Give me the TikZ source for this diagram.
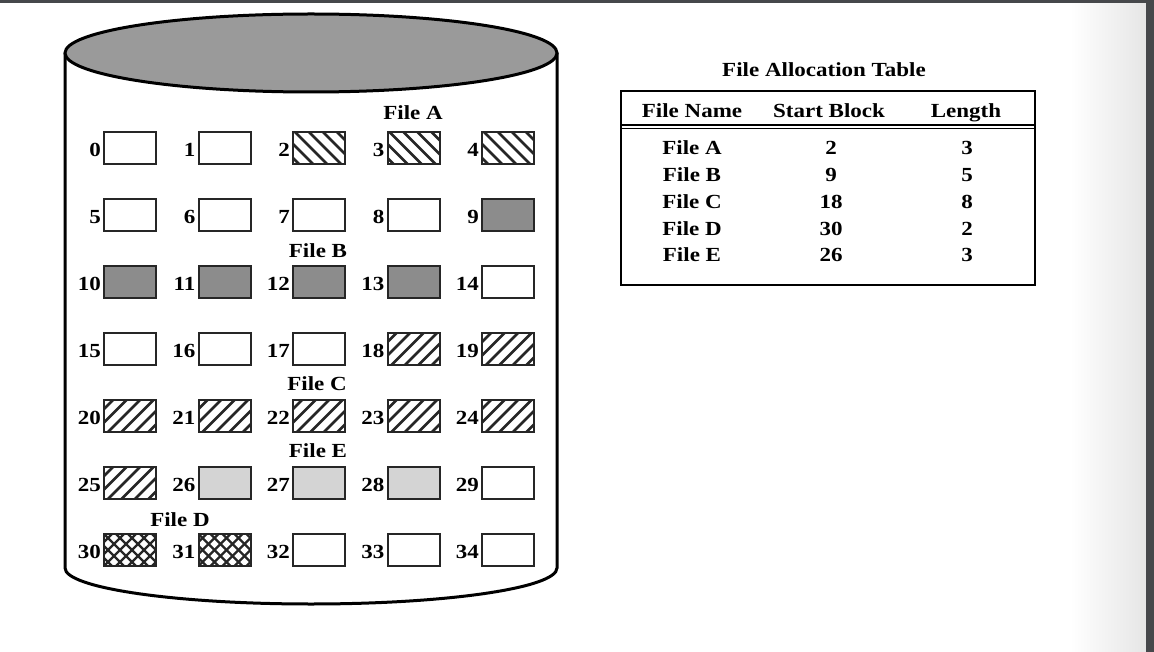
\documentclass[tikz,border=0pt]{standalone}
\usepackage{fontspec}
\setmainfont{Liberation Serif}[FakeStretch=1.15]
\definecolor{barcol}{HTML}{46484B}
\definecolor{topgray}{HTML}{9A9A9A}
\definecolor{bgray}{HTML}{8C8C8C}
\definecolor{egray}{HTML}{D4D4D4}
\begin{document}
\begin{tikzpicture}[x=1pt,y=-1pt,
  lblfont/.style={font=\fontsize{20}{24}\selectfont\bfseries},
  blk/.style={draw=black!85, line width=2pt, minimum width=52pt, minimum height=32pt, inner sep=0pt, fill=white},
  blkN/.style={},
  blkA/.style={path picture={\foreach \k in {-3,...,4} \draw[line width=2.8pt] ([xshift=\k*14pt+2pt]path picture bounding box.north west) -- ++(40pt,-40pt);}},
  blkC/.style={path picture={\foreach \k in {-3,...,4} \draw[line width=2.8pt] ([xshift=\k*13.5pt+4pt]path picture bounding box.south west) -- ++(40pt,40pt);}},
  blkD/.style={path picture={\foreach \k in {-4,...,5} {\draw[line width=2.3pt] ([xshift=\k*12pt]path picture bounding box.north west) -- ++(40pt,-40pt);
      \draw[line width=2.3pt] ([xshift=\k*12pt]path picture bounding box.south west) -- ++(40pt,40pt);}}},
  blkB/.style={fill=bgray},
  blkE/.style={fill=egray},
  numlbl/.style={lblfont, anchor=base east, inner sep=0pt},
  txt/.style={lblfont, anchor=base, inner sep=0pt}
]
\useasboundingbox (0,0) rectangle (1154,652);
\fill[white] (0,0) rectangle (1154,652);
\shade[left color=white, right color=black!10] (1070,3) rectangle (1146,652);
\fill[barcol] (0,0) rectangle (1154,3);
\fill[barcol] (1146,0) rectangle (1154,652);

% cylinder
\draw[line width=3pt] (65,53) -- (65,568) arc[start angle=180, end angle=360, x radius=246pt, y radius=36pt] -- (557,53);
\draw[line width=3pt, fill=topgray] (311,53) ellipse [x radius=246pt, y radius=39pt];

% blocks
\foreach \n/\s in {0/blkN,1/blkN,2/blkA,3/blkA,4/blkA,
  5/blkN,6/blkN,7/blkN,8/blkN,9/blkB,
  10/blkB,11/blkB,12/blkB,13/blkB,14/blkN,
  15/blkN,16/blkN,17/blkN,18/blkC,19/blkC,
  20/blkC,21/blkC,22/blkC,23/blkC,24/blkC,
  25/blkC,26/blkE,27/blkE,28/blkE,29/blkN,
  30/blkD,31/blkD,32/blkN,33/blkN,34/blkN} {
  \pgfmathtruncatemacro\r{\n/5}
  \pgfmathtruncatemacro\c{\n-5*\r}
  \node[blk,\s] (b\n) at ({130+94.5*\c},{148+67*\r}) {};
  \node[numlbl] (l\n) at ([xshift=-2pt,yshift=-8.5pt]b\n.west) {\n};
}

% file labels
\node[txt] (fA) at (413,120) {File A};
\node[txt] (fB) at (318,258) {File B};
\node[txt] (fC) at (317,390) {File C};
\node[txt] (fE) at (318,457) {File E};
\node[txt] (fD) at (180,526) {File D};

% table
\node[txt] (title) at (824,77) {File Allocation Table};
\draw[line width=2.5pt] (621,91) rectangle (1035,285);
\draw[line width=1.2pt] (621,125) -- (1035,125);
\draw[line width=1.2pt] (621,128.5) -- (1035,128.5);
\node[txt] (h1) at (692,118) {File Name};
\node[txt] (h2) at (829,118) {Start Block};
\node[txt] (h3) at (966,118) {Length};
\foreach \i/\f/\s/\l in {0/A/2/3,1/B/9/5,2/C/18/8,3/D/30/2,4/E/26/3} {
  \node[txt] (r\i a) at (692,{155+26.75*\i}) {File \f};
  \node[txt] (r\i b) at (831,{155+26.75*\i}) {\s};
  \node[txt] (r\i c) at (967,{155+26.75*\i}) {\l};
}
\end{tikzpicture}
\end{document}
